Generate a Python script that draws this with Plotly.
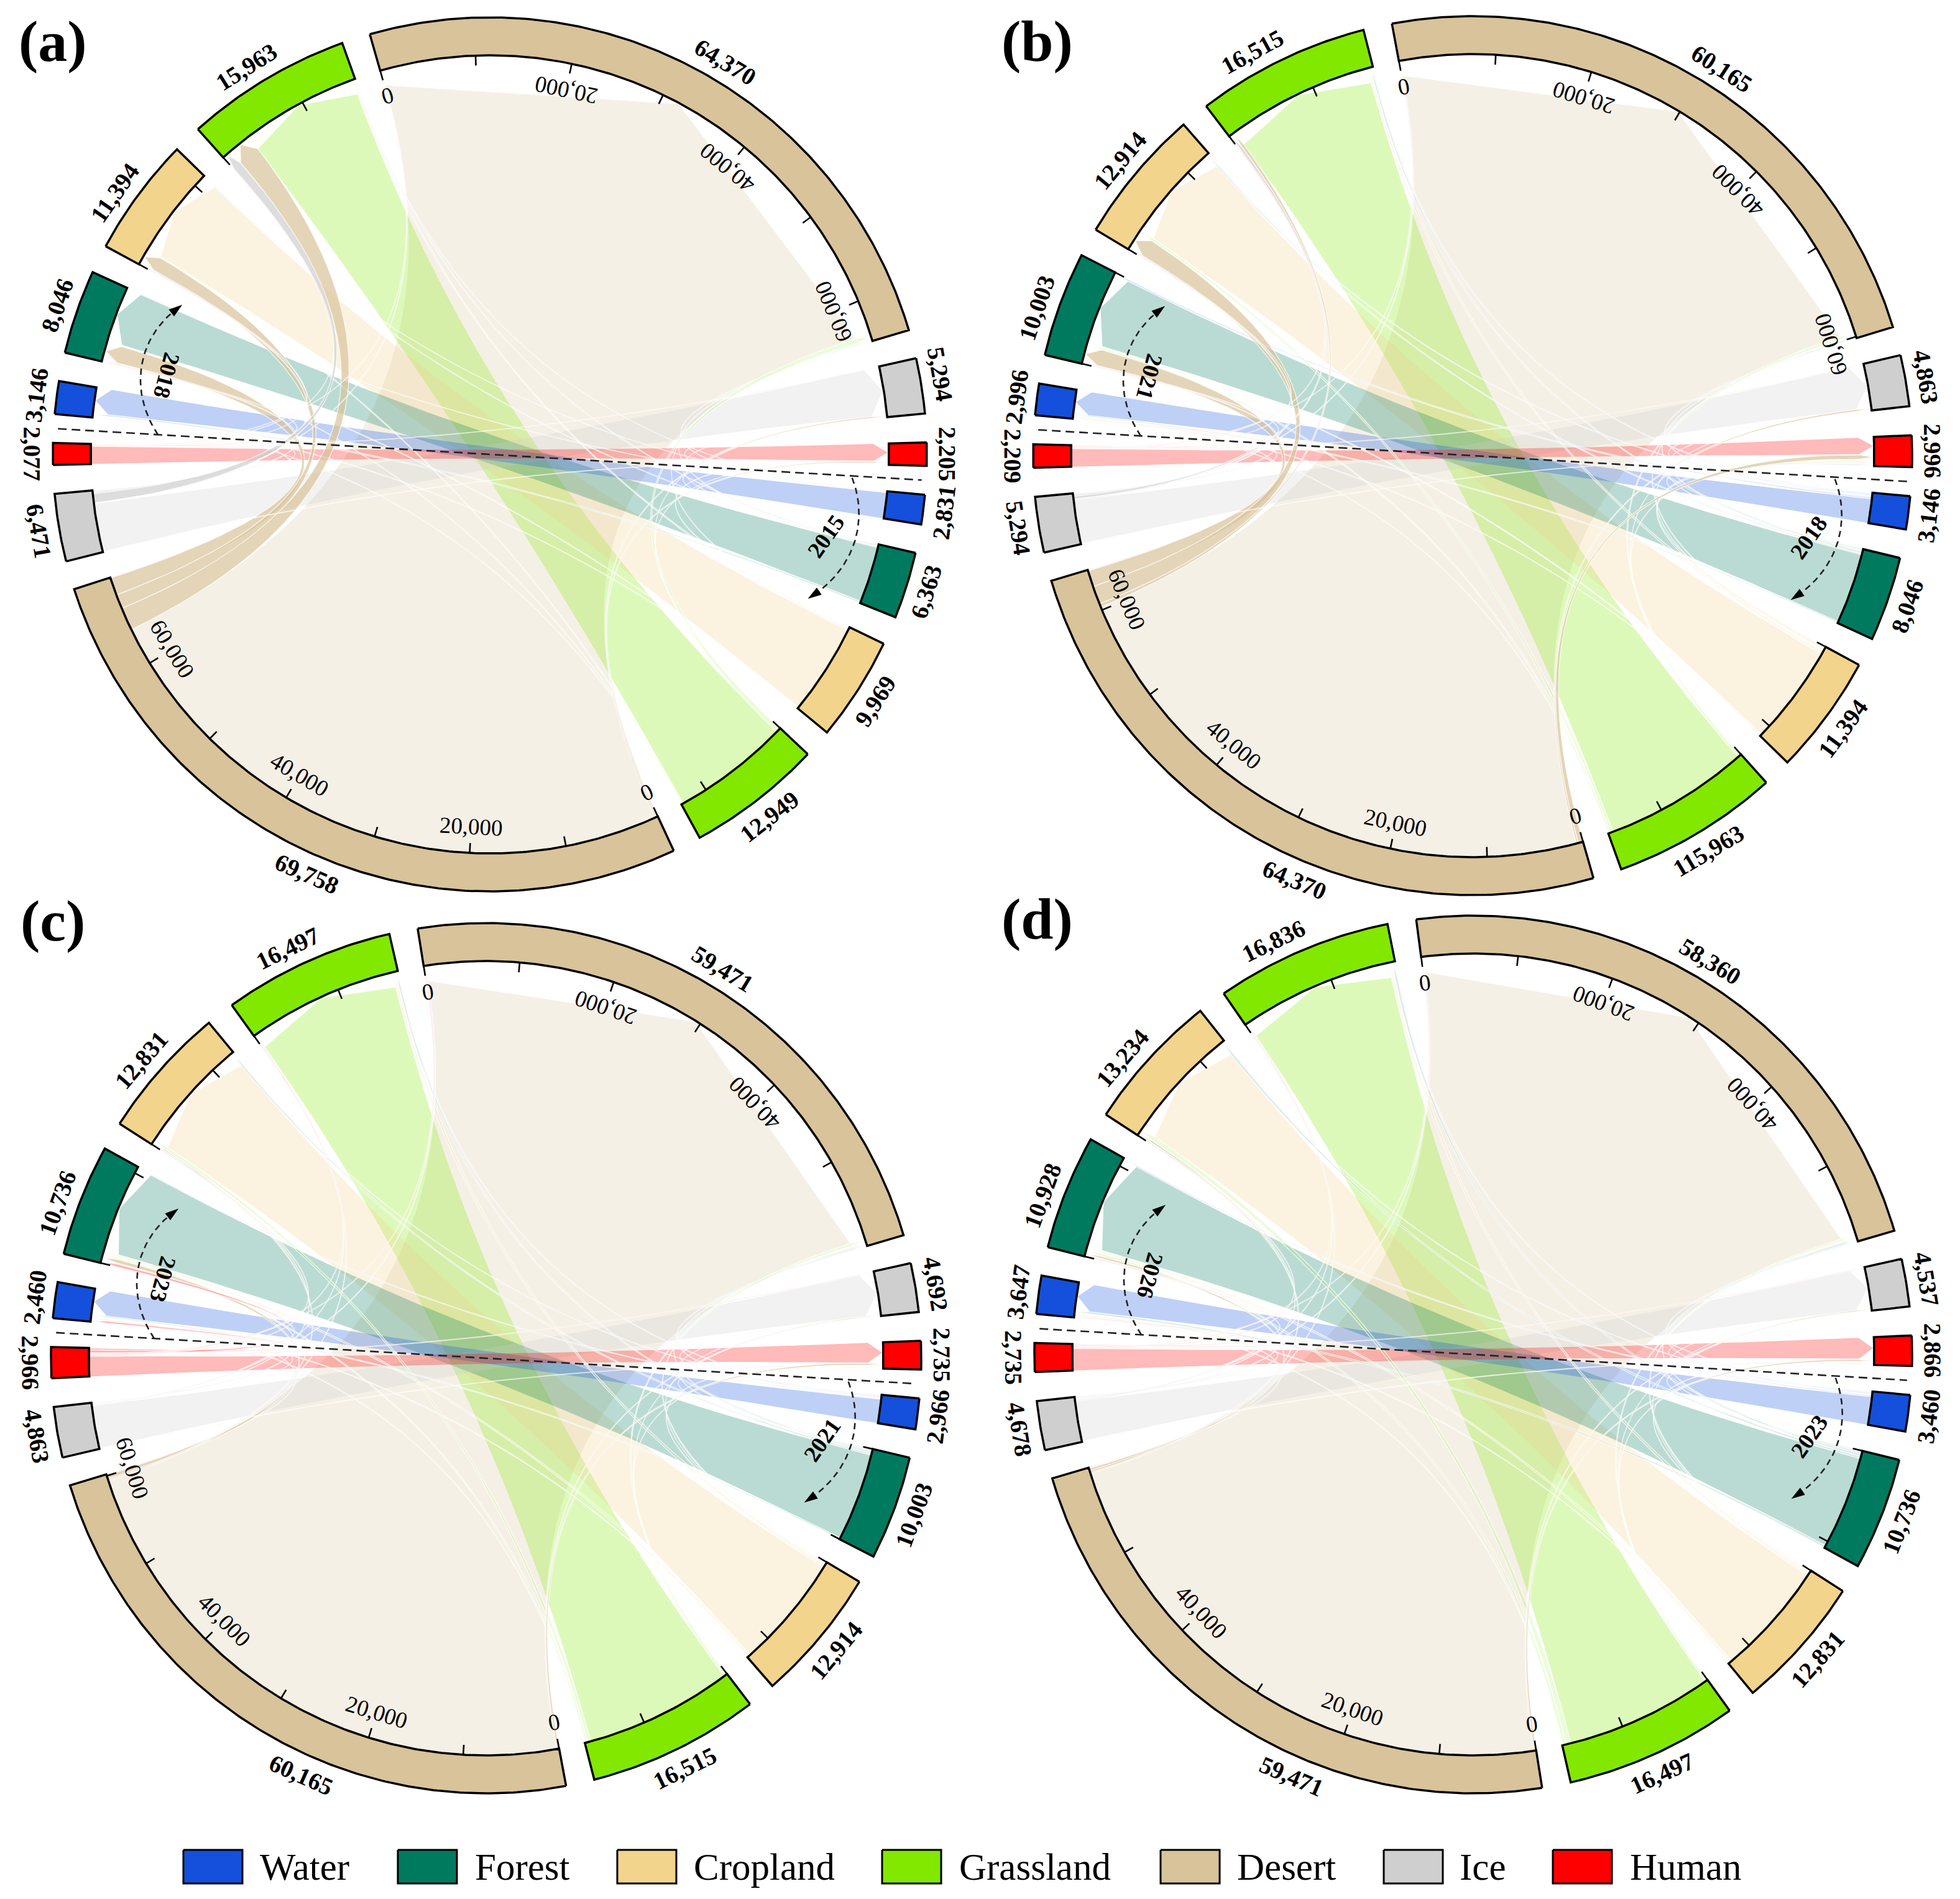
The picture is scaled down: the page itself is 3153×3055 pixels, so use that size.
import math
import plotly.graph_objects as go

# ---------------- data ----------------
CATEGORIES = ["Water", "Forest", "Cropland", "Grassland", "Desert", "Ice", "Human"]
PANEL_NAMES = ["(a)", "(b)", "(c)", "(d)"]
FROM_YEARS = ["2015", "2018", "2021", "2023"]
TO_YEARS = ["2018", "2021", "2023", "2026"]

FROM_A = [2831, 6363, 9969, 12949, 69758, 6471, 2077]
TO_A = [3146, 8046, 11394, 15963, 64370, 5294, 2205]
FROM_B = [3146, 8046, 11394, 15963, 64370, 5294, 2209]
TO_B = [2996, 10003, 12914, 16515, 60165, 4863, 2996]
FROM_C = [2966, 10003, 12914, 16515, 60165, 4863, 2966]
TO_C = [3460, 10736, 12831, 16497, 59471, 4692, 2735]
FROM_D = [3460, 10736, 12831, 16497, 59471, 4678, 2735]
TO_D = [3647, 10928, 13234, 16836, 58360, 4537, 2866]

# printed labels (the source figure prints a few of them differently from the sector size)
FROM_LABELS_A = ["2,831", "6,363", "9,969", "12,949", "69,758", "6,471", "2,077"]
TO_LABELS_A = ["3,146", "8,046", "11,394", "15,963", "64,370", "5,294", "2,205"]
FROM_LABELS_B = ["3,146", "8,046", "11,394", "115,963", "64,370", "5,294", "2,209"]
TO_LABELS_B = ["2,996", "10,003", "12,914", "16,515", "60,165", "4,863", "2,996"]
FROM_LABELS_C = ["2,966", "10,003", "12,914", "16,515", "60,165", "4,863", "2,966"]
TO_LABELS_C = ["2,460", "10,736", "12,831", "16,497", "59,471", "4,692", "2,735"]
FROM_LABELS_D = ["3,460", "10,736", "12,831", "16,497", "59,471", "4,678", "2,735"]
TO_LABELS_D = ["3,647", "10,928", "13,234", "16,836", "58,360", "4,537", "2,866"]

# transition estimates: rows = from-year class, columns = to-year class
FLOW_A = [
    [2700, 20, 10, 10, 60, 15, 16],
    [200, 5820, 70, 100, 130, 10, 33],
    [60, 90, 9445, 200, 50, 0, 124],
    [40, 50, 120, 12220, 500, 15, 4],
    [50, 1860, 1500, 2400, 63640, 160, 148],
    [65, 120, 150, 973, 60, 5074, 30],
    [31, 86, 44, 30, 20, 20, 1850],
]
FLOW_B = [
    [2500, 200, 100, 100, 150, 50, 46],
    [150, 7300, 150, 200, 100, 6, 140],
    [60, 150, 10350, 300, 100, 4, 430],
    [30, 200, 300, 15040, 280, 13, 100],
    [100, 1700, 1900, 330, 59640, 200, 500],
    [60, 100, 150, 300, 100, 4560, 24],
    [96, 70, 40, 85, 20, 30, 1868],
]
FLOW_C = [
    [2500, 100, 60, 60, 150, 30, 66],
    [150, 9200, 200, 200, 150, 10, 93],
    [100, 300, 11900, 350, 180, 4, 80],
    [100, 200, 350, 15500, 280, 15, 70],
    [100, 400, 150, 100, 59100, 100, 215],
    [50, 100, 50, 50, 100, 4480, 33],
    [200, 300, 100, 100, 100, 66, 2100],
]
FLOW_D = [
    [2900, 150, 80, 80, 150, 40, 60],
    [250, 9650, 250, 250, 200, 20, 116],
    [100, 300, 11800, 350, 200, 5, 76],
    [100, 300, 500, 15300, 200, 17, 80],
    [100, 250, 200, 100, 58500, 121, 200],
    [100, 100, 50, 100, 100, 4160, 68],
    [97, 100, 100, 72, 50, 50, 2266],
]

# ---------------- style / layout ----------------
W, H = 3153, 3055
COLORS = ["#1450DC", "#007A5E", "#F2D48C", "#82E800", "#D8C39A", "#CFCFCF", "#FF0000"]
SERIF = "Liberation Serif"
CENTERS = [(788, 731), (2369, 733), (782, 2185), (2370, 2179)]
OUTER = [703, 707, 700, 706]
PANEL_LABEL_XY = [(85, 66), (1668, 66), (85, 1481), (1668, 1478)]
TILT = 3.4
GAP = 3.8
RING = 61
ARROW = 25
ORDER = [6, 5, 4, 3, 2, 1, 0]
LEGEND_X = [295, 640, 993, 1419, 1867, 2226, 2498]
LEGEND_TEXT_X = [416, 762, 1114, 1541, 1988, 2346, 2620]
LEGEND_Y = (2976, 3030)
# label placement offsets along the ring, degrees, per class
FROM_SHIFT = [
    [0, 0, 0, 0, 0, 0, 0],
    [0, 0, 0, 0, -6, 0, 0],
    [0, 0, 0, 0, -7.3, 0, 0],
    [0, 0, 0, 0, -9, 0, 0],
]
TO_SHIFT = [
    [0, 0, -1.5, -1.3, 2.2, -1.1, 0],
    [0, -1.5, 0, -2.8, 1.6, 0, 0],
    [0, -1.4, -0.7, -1.5, -1, 0, 0],
    [0, -1.5, -2.2, -2.8, -2, 0, 0],
]


def rgba(hexcolor, a):
    r, g, b = int(hexcolor[1:3], 16), int(hexcolor[3:5], 16), int(hexcolor[5:7], 16)
    return f"rgba({r},{g},{b},{a})"


fig = go.Figure()
annotations = []


def text(x, y, s, size, rot=0, bold=False, anchor="center"):
    annotations.append(dict(
        x=x, y=y, xref="x", yref="y", text=s, showarrow=False, textangle=rot,
        xanchor=anchor, yanchor="middle",
        font=dict(family=SERIF, size=size, color="black", weight="bold" if bold else "normal"),
    ))


def norm_rot(a):
    a = a % 360
    return a - 360 if a > 180 else a


def draw_panel(p, src, tgt, flow, src_labels, tgt_labels):
    cx, cy = CENTERS[p]
    ro = OUTER[p]
    ri = ro - RING

    def pt(b, r):
        t = math.radians(b)
        return cx + r * math.sin(t), cy - r * math.cos(t)

    k = (360 - 14 * GAP) / (sum(src) + sum(tgt))
    pos = TILT + 90 + GAP / 2
    src_start, tgt_start = [], []
    for v in src:
        src_start.append(pos)
        pos += v * k + GAP
    for v in tgt:
        tgt_start.append(pos)
        pos += v * k + GAP

    # span of every ribbon inside its two sectors
    n = len(CATEGORIES)
    src_span, tgt_span = {}, {}
    for i in range(n):
        scale = src[i] * k / sum(flow[i])
        b = src_start[i]
        for j in ORDER:
            w = flow[i][j] * scale
            src_span[(i, j)] = (b, b + w)
            b += w
    for j in range(n):
        scale = tgt[j] * k / sum(flow[i][j] for i in range(n))
        b = tgt_start[j]
        for i in ORDER:
            w = flow[i][j] * scale
            tgt_span[(i, j)] = (b, b + w)
            b += w

    def ribbon(i, j):
        a1, a2 = src_span[(i, j)]
        t1, t2 = tgt_span[(i, j)]
        rc = ri - ARROW
        xs, ys = [], []
        for q in range(13):
            x, y = pt(a1 + (a2 - a1) * q / 12, ri)
            xs.append(x); ys.append(y)

        def bez(b0, r0, b1, r1):
            p0, p1 = pt(b0, r0), pt(b1, r1)
            for q in range(1, 41):
                u = q / 40
                xs.append((1 - u) ** 2 * p0[0] + 2 * u * (1 - u) * cx + u * u * p1[0])
                ys.append((1 - u) ** 2 * p0[1] + 2 * u * (1 - u) * cy + u * u * p1[1])

        bez(a2, ri, t1, rc)
        x, y = pt((t1 + t2) / 2, ri - 2)
        xs.append(x); ys.append(y)
        x, y = pt(t2, rc)
        xs.append(x); ys.append(y)
        bez(t2, rc, a1, ri)
        return xs, ys

    # same-class ribbons first, largest at the back
    diag = sorted(range(n), key=lambda c: -flow[c][c])
    for c in diag:
        xs, ys = ribbon(c, c)
        fig.add_trace(go.Scatter(x=xs, y=ys, mode="lines", fill="toself",
                                 fillcolor=rgba(COLORS[c], 0.25 if c == 4 else 0.27),
                                 line=dict(width=0), hoverinfo="skip", showlegend=False))
    for i in range(n):
        for j in range(n):
            if i == j or flow[i][j] <= 0:
                continue
            xs, ys = ribbon(i, j)
            strong = i in (4, 5) and flow[i][j] >= 100
            alpha = 0.7 if strong else (0.3 if i == 6 else 0.15)
            fig.add_trace(go.Scatter(x=xs, y=ys, mode="lines", fill="toself",
                                     fillcolor=rgba(COLORS[i], alpha),
                                     line=dict(width=1.5, color="rgba(255,255,255,0.7)"),
                                     hoverinfo="skip", showlegend=False))

    # sector ring, ticks, labels
    def sector(start, v, color, label, flip, shift):
        end = start + v * k
        m = max(2, int((end - start) * 2))
        xs, ys = [], []
        for q in range(m + 1):
            x, y = pt(start + (end - start) * q / m, ro)
            xs.append(x); ys.append(y)
        for q in range(m, -1, -1):
            x, y = pt(start + (end - start) * q / m, ri)
            xs.append(x); ys.append(y)
        xs.append(xs[0]); ys.append(ys[0])
        fig.add_trace(go.Scatter(x=xs, y=ys, mode="lines", fill="toself", fillcolor=color,
                                 line=dict(color="black", width=3.5), hoverinfo="skip",
                                 showlegend=False))
        if v >= 10000:
            val = 0
            while val <= v:
                b = start + val * k
                (x0, y0), (x1, y1) = pt(b, ri), pt(b, ri - 16)
                fig.add_trace(go.Scatter(x=[x0, x1], y=[y0, y1], mode="lines",
                                         line=dict(color="black", width=2.6),
                                         hoverinfo="skip", showlegend=False))
                if v > 30000 and val % 20000 == 0:
                    x, y = pt(b, ro - 104)
                    text(x, y, f"{val:,}", 37, norm_rot(b - 180))
                val += 10000
        mid = (start + end) / 2 + shift
        x, y = pt(mid, ro + 33)
        text(x, y, label, 39, norm_rot(mid - 180 if flip else mid), bold=True)

    for c in range(n):
        sector(src_start[c], src[c], COLORS[c], src_labels[c], True, FROM_SHIFT[p][c])
        sector(tgt_start[c], tgt[c], COLORS[c], tgt_labels[c], False, TO_SHIFT[p][c])

    # dashed divider
    (x0, y0), (x1, y1) = pt(TILT + 270, ro - 7), pt(TILT + 90, ro - 7)
    fig.add_trace(go.Scatter(x=[x0, x1], y=[y0, y1], mode="lines",
                             line=dict(color="#222222", width=2.6, dash="14px,8px"),
                             hoverinfo="skip", showlegend=False))

    # direction arrows
    def arc(b0, r0, b1, r1, b2, r2):
        xs, ys = [], []
        for q in range(41):
            b = b0 + (b2 - b0) * q / 40
            l0 = (b - b1) * (b - b2) / ((b0 - b1) * (b0 - b2))
            l1 = (b - b0) * (b - b2) / ((b1 - b0) * (b1 - b2))
            l2 = (b - b0) * (b - b1) / ((b2 - b0) * (b2 - b1))
            x, y = pt(b, r0 * l0 + r1 * l1 + r2 * l2)
            xs.append(x); ys.append(y)
        fig.add_trace(go.Scatter(x=xs, y=ys, mode="lines",
                                 line=dict(color="#222222", width=2.6, dash="10px,7px"),
                                 hoverinfo="skip", showlegend=False))
        dx, dy = xs[-1] - xs[-3], ys[-1] - ys[-3]
        d = math.hypot(dx, dy)
        dx, dy = dx / d, dy / d
        tx, ty = xs[-1] + dx * 6, ys[-1] + dy * 6
        bx, by = tx - dx * 22, ty - dy * 22
        fig.add_trace(go.Scatter(x=[tx, bx - dy * 7, bx + dy * 7, tx],
                                 y=[ty, by + dx * 7, by - dx * 7, ty], mode="lines", fill="toself",
                                 fillcolor="black", line=dict(width=0), hoverinfo="skip",
                                 showlegend=False))

    arc(TILT + 270, 535, TILT + 276, 567, TILT + 292, 553)
    arc(TILT + 90.3, 584, TILT + 95, 600, TILT + 110.5, 565)
    x, y = pt(TILT + 280.3, 535)
    text(x, y, TO_YEARS[p], 37, 105, bold=True)
    x, y = pt(TILT + 100.3, 557)
    text(x, y, FROM_YEARS[p], 37, -55, bold=True)
    x, y = PANEL_LABEL_XY[p]
    text(x, y, PANEL_NAMES[p], 94, 0, bold=True)


draw_panel(0, FROM_A, TO_A, FLOW_A, FROM_LABELS_A, TO_LABELS_A)
draw_panel(1, FROM_B, TO_B, FLOW_B, FROM_LABELS_B, TO_LABELS_B)
draw_panel(2, FROM_C, TO_C, FLOW_C, FROM_LABELS_C, TO_LABELS_C)
draw_panel(3, FROM_D, TO_D, FLOW_D, FROM_LABELS_D, TO_LABELS_D)

# legend
for c, name in enumerate(CATEGORIES):
    x0, x1 = LEGEND_X[c], LEGEND_X[c] + 95
    y0, y1 = LEGEND_Y
    fig.add_trace(go.Scatter(x=[x0, x1, x1, x0, x0], y=[y0, y0, y1, y1, y0], mode="lines",
                             fill="toself", fillcolor=COLORS[c], name=name,
                             line=dict(color="black", width=3), hoverinfo="skip", showlegend=False))
    text(LEGEND_TEXT_X[c], (y0 + y1) / 2, name, 61, anchor="left")

fig.update_layout(
    width=W, height=H, margin=dict(l=0, r=0, t=0, b=0),
    paper_bgcolor="white", plot_bgcolor="white", showlegend=False,
    xaxis=dict(range=[0, W], visible=False, fixedrange=True),
    yaxis=dict(range=[H, 0], visible=False, fixedrange=True),
    annotations=annotations, hovermode=False,
)
fig.write_html("out.html", config={"displayModeBar": False},
               post_script="document.body.style.margin='0';")
